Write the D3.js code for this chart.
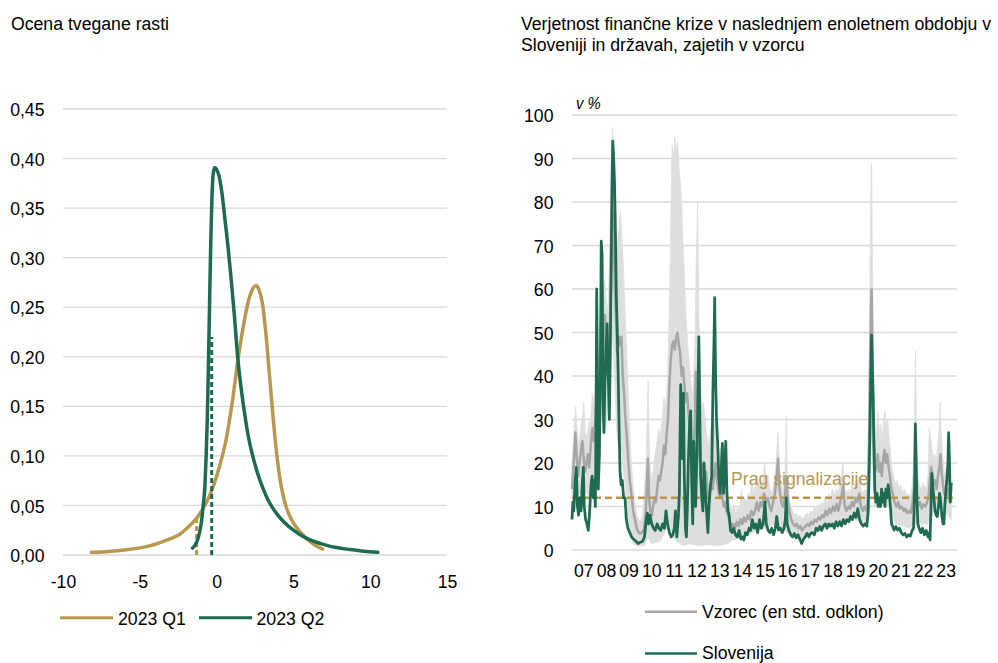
<!DOCTYPE html>
<html><head><meta charset="utf-8">
<script src="https://cdn.jsdelivr.net/npm/d3@7"></script>
<style>
html,body{margin:0;padding:0;background:#fff;}
svg{display:block;}
text{font-family:"Liberation Sans", Arial, Helvetica, sans-serif;}
</style></head>
<body><svg id="chart" width="998" height="663"></svg>
<script>
// ---------------- DATA ----------------
const leftTitle = "Ocena tvegane rasti";
const rightTitle = ["Verjetnost finančne krize v naslednjem enoletnem obdobju v", "Sloveniji in državah, zajetih v vzorcu"];
const leftYTicks = [0, 0.05, 0.10, 0.15, 0.20, 0.25, 0.30, 0.35, 0.40, 0.45];
const leftXTicks = [-10, -5, 0, 5, 10, 15];
const seriesNames = ["2023 Q1", "2023 Q2"];
// density of growth, 2023 Q1 [growth, density]
const densQ1 = [[-8.15,0.0027],[-7,0.0036],[-6,0.0050],[-5,0.0072],[-4.3,0.0095],[-3.6,0.013],[-3.0,0.0165],[-2.4,0.021],[-2.0,0.026],[-1.6,0.032],[-1.3,0.037],[-1.0,0.044],[-0.6,0.055],[-0.2,0.070],[0.2,0.090],[0.6,0.115],[1.0,0.152],[1.4,0.198],[1.8,0.236],[2.1,0.258],[2.4,0.270],[2.55,0.272],[2.75,0.268],[3.0,0.252],[3.2,0.225],[3.45,0.180],[3.7,0.135],[3.95,0.097],[4.2,0.070],[4.5,0.050],[4.9,0.035],[5.4,0.024],[5.9,0.016],[6.4,0.010],[6.9,0.006]];
// density of growth, 2023 Q2
const densQ2 = [[-1.57,0.007],[-1.35,0.011],[-1.15,0.020],[-1.0,0.032],[-0.87,0.050],[-0.76,0.070],[-0.68,0.100],[-0.61,0.135],[-0.54,0.185],[-0.48,0.235],[-0.42,0.285],[-0.37,0.322],[-0.30,0.362],[-0.22,0.385],[-0.12,0.391],[0.0,0.389],[0.15,0.383],[0.35,0.365],[0.55,0.338],[0.75,0.310],[0.95,0.278],[1.15,0.243],[1.37,0.200],[1.6,0.168],[1.85,0.140],[2.1,0.117],[2.4,0.097],[2.7,0.081],[3.0,0.068],[3.4,0.054],[3.9,0.042],[4.4,0.033],[5.0,0.025],[5.6,0.019],[6.3,0.014],[7.0,0.0105],[7.8,0.0075],[8.7,0.0055],[9.6,0.0038],[10.5,0.0027]];
// dashed markers [growth, density height]
const markerQ1 = [-1.3, 0.035];
const markerQ2 = [-0.32, 0.22];

const rightYTicks = [0,10,20,30,40,50,60,70,80,90,100];
const rightXYears = [2007,2008,2009,2010,2011,2012,2013,2014,2015,2016,2017,2018,2019,2020,2021,2022,2023];
const threshold = 12;
const thresholdLabel = "Prag signalizacije";
const unitLabel = "v %";
const legendRight = ["Vzorec (en std. odklon)", "Slovenija"];

// Slovenia [year, %]
const slovenia = [[2007.00,7],[2007.04,11],[2007.08,9],[2007.13,15],[2007.19,19],[2007.24,10],[2007.29,8],[2007.35,12],[2007.40,9],[2007.45,15],[2007.50,19],[2007.54,10],[2007.60,7],[2007.66,6],[2007.72,4.5],[2007.78,9],[2007.84,15],[2007.89,17],[2007.94,12],[2007.99,16],[2008.03,10],[2008.06,28],[2008.09,60],[2008.12,40],[2008.16,14],[2008.21,22],[2008.26,45],[2008.29,71],[2008.33,68],[2008.37,35],[2008.41,27],[2008.45,38],[2008.50,45],[2008.55,52],[2008.60,40],[2008.65,30],[2008.69,45],[2008.73,67],[2008.77,85],[2008.80,94],[2008.84,90],[2008.88,84],[2008.92,72],[2008.96,58],[2009.00,50],[2009.04,40],[2009.08,28],[2009.12,18],[2009.17,15],[2009.22,16],[2009.28,12],[2009.34,12],[2009.40,7],[2009.47,5],[2009.55,4],[2009.63,3],[2009.72,2.5],[2009.82,2],[2009.92,1.5],[2010.02,1.8],[2010.12,2],[2010.20,3],[2010.28,7],[2010.33,8.5],[2010.38,6],[2010.45,8],[2010.52,6],[2010.60,5],[2010.68,4.5],[2010.76,6],[2010.84,5],[2010.92,4.5],[2011.00,6],[2011.08,5],[2011.15,9],[2011.22,6],[2011.30,4],[2011.38,3],[2011.45,3.5],[2011.52,5],[2011.57,9],[2011.63,3],[2011.70,8],[2011.74,13],[2011.80,38],[2011.84,28],[2011.88,21],[2011.92,36],[2011.96,17],[2012.01,5],[2012.05,3],[2012.09,9],[2012.14,21],[2012.20,30],[2012.24,32],[2012.28,17],[2012.33,6],[2012.38,25],[2012.42,15],[2012.46,10],[2012.51,21],[2012.56,35],[2012.60,49],[2012.64,33],[2012.68,17],[2012.73,12],[2012.78,9],[2012.83,20],[2012.88,14],[2012.94,9],[2013.00,4],[2013.06,11],[2013.12,15],[2013.17,17],[2013.22,36],[2013.27,48],[2013.30,58],[2013.34,40],[2013.38,30],[2013.43,25],[2013.48,17],[2013.54,13],[2013.60,20],[2013.64,24.5],[2013.69,13],[2013.74,18],[2013.79,25],[2013.84,13],[2013.89,9],[2013.94,8],[2014.00,4.5],[2014.07,4],[2014.14,5],[2014.22,3.5],[2014.30,3],[2014.38,4.5],[2014.46,2.5],[2014.54,3],[2014.59,2.3],[2014.66,4],[2014.74,3.5],[2014.82,5],[2014.89,4.5],[2014.96,7],[2015.04,5],[2015.12,6],[2015.20,4],[2015.28,7],[2015.36,5],[2015.44,6],[2015.52,11],[2015.58,6],[2015.66,4.5],[2015.74,4],[2015.82,5],[2015.90,3.5],[2015.98,5],[2016.04,7.7],[2016.12,4.6],[2016.20,5],[2016.28,4],[2016.36,5],[2016.42,7],[2016.46,12],[2016.50,6],[2016.58,4.5],[2016.66,3.5],[2016.74,3],[2016.82,3.8],[2016.90,2.8],[2016.98,3.5],[2017.06,2.5],[2017.14,1.5],[2017.22,2.5],[2017.30,3],[2017.38,3.8],[2017.46,3],[2017.54,3.8],[2017.62,4],[2017.70,3.5],[2017.78,5],[2017.86,4.5],[2017.94,5.4],[2018.02,4.5],[2018.10,5.5],[2018.18,6],[2018.26,5],[2018.34,6],[2018.42,5.5],[2018.50,6],[2018.58,5],[2018.66,6.5],[2018.74,5.5],[2018.82,6.5],[2018.90,5.5],[2018.98,7],[2019.06,6],[2019.14,7],[2019.22,6.5],[2019.30,7.7],[2019.38,7],[2019.46,8.5],[2019.54,7.5],[2019.62,9.5],[2019.70,7],[2019.78,6],[2019.86,5.5],[2019.94,6],[2020.02,5.5],[2020.08,9],[2020.13,20],[2020.17,32],[2020.21,45],[2020.23,49.4],[2020.26,42],[2020.30,34],[2020.33,24],[2020.37,14],[2020.42,11],[2020.47,13],[2020.52,10],[2020.57,12],[2020.62,10],[2020.67,14],[2020.72,11],[2020.77,13],[2020.82,10],[2020.86,14],[2020.91,12],[2020.96,15],[2021.01,13],[2021.06,10],[2021.11,6],[2021.16,5.4],[2021.22,4.6],[2021.30,5.4],[2021.38,4.6],[2021.46,5],[2021.54,4],[2021.62,3.5],[2021.70,3.8],[2021.78,3],[2021.86,3.5],[2021.94,3.2],[2022.02,4.5],[2022.08,5],[2022.12,12],[2022.16,29],[2022.19,22],[2022.23,12],[2022.27,6],[2022.33,5],[2022.40,4],[2022.48,5],[2022.56,3.5],[2022.64,4.5],[2022.72,3],[2022.78,4],[2022.81,2.3],[2022.85,10],[2022.89,17.6],[2022.93,14.6],[2022.98,12],[2023.03,9],[2023.08,8],[2023.13,7.7],[2023.18,10],[2023.23,13],[2023.28,11],[2023.33,8],[2023.38,6],[2023.42,6],[2023.46,10],[2023.50,13],[2023.55,16],[2023.60,20],[2023.63,27],[2023.67,20],[2023.70,11],[2023.75,15.5]];

// sample mean [year, %]
const sampleMean = [[2007.00,14],[2007.05,18],[2007.10,22],[2007.15,27],[2007.20,22],[2007.27,17],[2007.33,20],[2007.40,23],[2007.46,25],[2007.52,21],[2007.58,18],[2007.64,20],[2007.70,22],[2007.76,19],[2007.83,24],[2007.90,28],[2007.97,25],[2008.03,30],[2008.10,36],[2008.17,33],[2008.23,43],[2008.28,52],[2008.34,49],[2008.40,43],[2008.46,54],[2008.52,46],[2008.58,40],[2008.64,45],[2008.70,55],[2008.76,68],[2008.80,78],[2008.85,70],[2008.90,60],[2008.95,52],[2009.00,45],[2009.06,49],[2009.12,47],[2009.18,49],[2009.24,40],[2009.30,36],[2009.36,30],[2009.42,26],[2009.48,21],[2009.55,16],[2009.62,13],[2009.70,9],[2009.78,7],[2009.86,5],[2009.94,4],[2010.02,3.8],[2010.10,4],[2010.18,5],[2010.25,8],[2010.30,14],[2010.35,21],[2010.40,12],[2010.46,9],[2010.52,8],[2010.58,10],[2010.64,12],[2010.70,11],[2010.76,14],[2010.82,17],[2010.88,16],[2010.94,18],[2011.00,20],[2011.06,24],[2011.12,22],[2011.18,27],[2011.24,30],[2011.30,38],[2011.36,44],[2011.42,47],[2011.48,48],[2011.54,46],[2011.60,49],[2011.66,50],[2011.72,47],[2011.78,45],[2011.84,40],[2011.90,42],[2011.96,38],[2012.02,34],[2012.08,36],[2012.14,32],[2012.20,28],[2012.26,25],[2012.32,22],[2012.38,24],[2012.43,30],[2012.46,41],[2012.50,28],[2012.56,24],[2012.62,22],[2012.68,19],[2012.74,18],[2012.80,20],[2012.86,16],[2012.92,18],[2012.98,14],[2013.04,12],[2013.10,14],[2013.16,16],[2013.22,14],[2013.28,18],[2013.34,20],[2013.40,16],[2013.46,14],[2013.52,12],[2013.58,14],[2013.64,12],[2013.70,10],[2013.76,11],[2013.82,9],[2013.88,8],[2013.94,7],[2014.00,6],[2014.06,5.5],[2014.12,6],[2014.20,5],[2014.28,6.5],[2014.36,5.5],[2014.44,7],[2014.52,6],[2014.60,7.5],[2014.68,6.5],[2014.76,8],[2014.84,7],[2014.92,9],[2015.00,8],[2015.08,9],[2015.16,11],[2015.24,9],[2015.32,11],[2015.40,10],[2015.48,13],[2015.56,11],[2015.64,12],[2015.72,10],[2015.80,9],[2015.88,11],[2015.96,13],[2016.04,17],[2016.10,21],[2016.16,14],[2016.24,11],[2016.32,10],[2016.40,12],[2016.46,17],[2016.52,12],[2016.60,9],[2016.68,7],[2016.76,6],[2016.84,5.5],[2016.92,6],[2017.00,5],[2017.08,5.5],[2017.16,4.5],[2017.24,5],[2017.32,5.5],[2017.40,6],[2017.48,5.5],[2017.56,6.5],[2017.64,6],[2017.72,7],[2017.80,6.5],[2017.88,7.5],[2017.96,7],[2018.04,8],[2018.12,7.5],[2018.20,9],[2018.28,8],[2018.36,9.5],[2018.44,8.5],[2018.52,10],[2018.60,9],[2018.68,10.5],[2018.76,9],[2018.84,11],[2018.92,13],[2018.98,15],[2019.04,10],[2019.12,9],[2019.20,10],[2019.28,9.5],[2019.36,11],[2019.44,10],[2019.52,12],[2019.60,11],[2019.68,13],[2019.76,10],[2019.84,9],[2019.92,10],[2020.00,9],[2020.06,11],[2020.12,25],[2020.17,45],[2020.21,58],[2020.23,60],[2020.26,48],[2020.30,34],[2020.34,24],[2020.39,18],[2020.44,19],[2020.50,22],[2020.56,18],[2020.62,20],[2020.68,17],[2020.74,21],[2020.80,23],[2020.86,20],[2020.92,22],[2020.98,19],[2021.04,17],[2021.10,14],[2021.16,13],[2021.24,11],[2021.32,10],[2021.40,11],[2021.48,9.5],[2021.56,10],[2021.64,9],[2021.72,9.5],[2021.80,8.5],[2021.88,9],[2021.96,8.5],[2022.04,11],[2022.10,14],[2022.16,13],[2022.22,12],[2022.28,10],[2022.36,11],[2022.44,9.5],[2022.52,10.5],[2022.60,10],[2022.68,11],[2022.74,12],[2022.80,16],[2022.86,19],[2022.92,17],[2022.98,15],[2023.04,16],[2023.10,14],[2023.16,17],[2023.22,19],[2023.27,22],[2023.32,18],[2023.38,15],[2023.44,13],[2023.50,12],[2023.56,13],[2023.62,14],[2023.68,12],[2023.75,11]];

// band upper edge (mean + 1 sd) [year, %]
const bandUpper = [[2007.00,20],[2007.06,25],[2007.12,30],[2007.16,33],[2007.22,28],[2007.30,24],[2007.38,28],[2007.46,31],[2007.52,34],[2007.58,27],[2007.66,26],[2007.74,29],[2007.82,30],[2007.90,36],[2007.98,33],[2008.05,40],[2008.12,46],[2008.20,48],[2008.28,60],[2008.36,58],[2008.44,62],[2008.52,57],[2008.60,55],[2008.68,72],[2008.74,90],[2008.78,97],[2008.84,92],[2008.90,83],[2008.96,73],[2009.02,70],[2009.08,75],[2009.14,78],[2009.20,72],[2009.26,66],[2009.32,58],[2009.38,50],[2009.44,42],[2009.50,34],[2009.56,26],[2009.62,20],[2009.70,15],[2009.78,11],[2009.86,8],[2009.94,7],[2010.02,6.5],[2010.10,8],[2010.18,12],[2010.26,20],[2010.32,30],[2010.36,39],[2010.42,22],[2010.50,16],[2010.58,18],[2010.66,22],[2010.74,24],[2010.82,28],[2010.90,26],[2010.98,30],[2011.06,35],[2011.14,33],[2011.22,40],[2011.30,55],[2011.36,75],[2011.42,93],[2011.48,90],[2011.54,95],[2011.60,92],[2011.66,94],[2011.72,88],[2011.78,85],[2011.84,80],[2011.90,70],[2011.96,64],[2012.02,55],[2012.08,50],[2012.14,45],[2012.20,42],[2012.26,38],[2012.32,35],[2012.38,40],[2012.44,50],[2012.48,65],[2012.55,80],[2012.60,55],[2012.66,40],[2012.72,32],[2012.80,34],[2012.88,30],[2012.96,26],[2013.04,24],[2013.12,28],[2013.20,26],[2013.28,30],[2013.36,27],[2013.44,24],[2013.52,22],[2013.60,24],[2013.68,20],[2013.76,18],[2013.84,15],[2013.92,12],[2014.00,10],[2014.08,9],[2014.16,10],[2014.24,8.5],[2014.32,10],[2014.40,9],[2014.48,14],[2014.54,11],[2014.62,12],[2014.70,11],[2014.78,13],[2014.86,12],[2014.94,16],[2015.02,13],[2015.10,15],[2015.18,17],[2015.26,14],[2015.34,16],[2015.42,15],[2015.50,20],[2015.58,16],[2015.66,17],[2015.74,14],[2015.82,13],[2015.90,15],[2015.98,18],[2016.06,24],[2016.10,27],[2016.16,19],[2016.24,15],[2016.32,14],[2016.40,17],[2016.46,31],[2016.50,18],[2016.58,13],[2016.66,10],[2016.74,9],[2016.82,8],[2016.90,8.5],[2016.98,7.5],[2017.06,8],[2017.14,7],[2017.22,7.5],[2017.30,8],[2017.38,8.5],[2017.46,8],[2017.54,9],[2017.62,8.5],[2017.70,10],[2017.78,9],[2017.86,10.5],[2017.94,10],[2018.02,11],[2018.10,10.5],[2018.18,12],[2018.26,11],[2018.34,13],[2018.42,12],[2018.50,14],[2018.58,12.5],[2018.66,14],[2018.74,13],[2018.82,15],[2018.90,17],[2018.96,20],[2019.04,14],[2019.12,13],[2019.20,14],[2019.28,13],[2019.36,15],[2019.44,14],[2019.52,16],[2019.60,15],[2019.68,17],[2019.76,14],[2019.84,13],[2019.92,14],[2020.00,13],[2020.06,16],[2020.12,40],[2020.17,70],[2020.21,88],[2020.23,89],[2020.26,70],[2020.30,48],[2020.34,35],[2020.40,26],[2020.46,28],[2020.52,32],[2020.58,26],[2020.64,29],[2020.70,25],[2020.76,30],[2020.82,32],[2020.88,28],[2020.94,30],[2021.00,26],[2021.06,23],[2021.12,19],[2021.20,17],[2021.28,15],[2021.36,16],[2021.44,14],[2021.52,15],[2021.60,13],[2021.68,14],[2021.76,12.5],[2021.84,13],[2021.92,12],[2022.00,14],[2022.06,18],[2022.12,30],[2022.17,46],[2022.21,30],[2022.26,17],[2022.34,15],[2022.42,14],[2022.50,15.5],[2022.58,14],[2022.66,15],[2022.72,17],[2022.78,28],[2022.84,26],[2022.90,23],[2022.96,21],[2023.02,22],[2023.08,20],[2023.14,24],[2023.20,27],[2023.26,34],[2023.30,27],[2023.36,22],[2023.42,19],[2023.48,17],[2023.54,19],[2023.60,21],[2023.66,18],[2023.75,15]];

// band lower edge (mean - 1 sd) [year, %]
const bandLower = [[2007.0,8],[2007.2,12],[2007.5,14],[2007.8,12],[2008.0,18],[2008.3,30],[2008.5,28],[2008.8,50],[2009.0,25],[2009.2,22],[2009.4,12],[2009.55,4],[2009.7,1.5],[2009.9,0.8],[2010.2,1],[2010.35,3],[2010.5,1.5],[2010.9,2],[2011.1,4],[2011.3,6],[2011.45,3],[2011.6,2],[2011.9,1],[2012.2,1.5],[2012.6,1],[2013.0,1.2],[2013.5,1],[2013.9,1.5],[2014.0,2],[2014.5,3],[2015.0,4],[2015.5,5],[2016.0,6],[2016.3,5],[2016.7,3],[2017.0,2.5],[2017.5,3.5],[2018.0,4.5],[2018.5,5.5],[2019.0,6],[2019.5,7],[2020.0,6],[2020.2,30],[2020.35,10],[2020.6,10],[2021.0,10],[2021.3,6],[2021.9,5],[2022.2,6],[2022.7,6],[2023.0,9],[2023.3,10],[2023.75,7]];

// ---------------- STYLE ----------------
const C = {green:"#1E6B50", gold:"#B8984F", mean:"#A6A6A6", band:"#DEDEDE", grid:"#D9D9D9", text:"#000"};
const FS = 19, SX = 0.93;
const svg = d3.select("#chart");

function label(g, x, y, str, anchor, opts) {
  opts = opts || {};
  const t = g.append("text")
    .attr("transform", `translate(${x},${y}) scale(${SX},1)`)
    .attr("text-anchor", anchor || "start")
    .attr("font-size", opts.size || FS)
    .attr("fill", opts.fill || C.text)
    .text(str);
  if (opts.italic) t.attr("font-style", "italic");
  return t;
}

// ---------------- LEFT CHART ----------------
const L = {x0:63, x1:447, y0:555, y1:109};
const lx = d3.scaleLinear().domain([-10, 15]).range([L.x0, L.x1]);
const ly = d3.scaleLinear().domain([0, 0.45]).range([L.y0, L.y1]);
const gl = svg.append("g");

label(gl, 11, 30, leftTitle);

gl.append("g").selectAll("line").data(leftYTicks).join("line")
  .attr("x1", L.x0).attr("x2", L.x1)
  .attr("y1", d => ly(d)).attr("y2", d => ly(d))
  .attr("stroke", C.grid).attr("stroke-width", 1.3);

const fmtL = d => d3.format(".2f")(d).replace(".", ",");
const lyAxis = gl.append("g").attr("transform", "translate(44.5,0)")
  .call(d3.axisLeft(ly).tickValues(leftYTicks).tickFormat(fmtL).tickSize(0).tickPadding(0));
lyAxis.select(".domain").remove();
lyAxis.attr("font-size", FS).attr("font-family", null);
lyAxis.selectAll("text").attr("x", 0).attr("dy", "0.35em").attr("transform", `scale(${SX},1)`).attr("fill", C.text);

const lxAxis = gl.append("g").attr("transform", "translate(0,588)")
  .call(d3.axisBottom(lx).tickValues(leftXTicks).tickFormat(d3.format("d")).tickSize(0).tickPadding(0));
lxAxis.select(".domain").remove();
lxAxis.attr("font-size", FS).attr("font-family", null);
lxAxis.selectAll("text").attr("y", 0).attr("dy", 0).attr("transform", `scale(${SX},1)`).attr("fill", C.text)
  .text(d => d < 0 ? "-" + Math.abs(d) : String(d));

const dLine = d3.line().x(d => lx(d[0])).y(d => ly(d[1])).curve(d3.curveMonotoneX);
gl.append("path").attr("d", dLine(densQ1)).attr("fill", "none").attr("stroke", C.gold).attr("stroke-width", 3.5).attr("stroke-linecap", "round");
gl.append("line").attr("x1", lx(markerQ1[0])).attr("x2", lx(markerQ1[0])).attr("y1", ly(0)).attr("y2", ly(markerQ1[1]))
  .attr("stroke", C.gold).attr("stroke-width", 3).attr("stroke-dasharray", "5,3");
gl.append("path").attr("d", dLine(densQ2)).attr("fill", "none").attr("stroke", C.green).attr("stroke-width", 3.5).attr("stroke-linecap", "round");
gl.append("line").attr("x1", lx(markerQ2[0])).attr("x2", lx(markerQ2[0])).attr("y1", ly(0)).attr("y2", ly(markerQ2[1]))
  .attr("stroke", C.green).attr("stroke-width", 3).attr("stroke-dasharray", "5,3");

// left legend
const legL = gl.append("g");
[[60, 113, 118, C.gold, seriesNames[0]], [199, 252, 256.5, C.green, seriesNames[1]]].forEach(s => {
  legL.append("line").attr("x1", s[0]).attr("x2", s[1]).attr("y1", 617.7).attr("y2", 617.7)
    .attr("stroke", s[3]).attr("stroke-width", 3);
  label(legL, s[2], 625, s[4]);
});

// ---------------- RIGHT CHART ----------------
const R = {x0:572, x1:957, y0:550, y1:115};
const rx = d3.scaleLinear().domain([2007, 2024]).range([R.x0, R.x1]);
const ry = d3.scaleLinear().domain([0, 100]).range([R.y0, R.y1]);
const gr = svg.append("g");

label(gr, 521, 29.5, rightTitle[0]);
label(gr, 521, 51, rightTitle[1]);

gr.append("g").selectAll("line").data(rightYTicks).join("line")
  .attr("x1", R.x0).attr("x2", R.x1)
  .attr("y1", d => ry(d)).attr("y2", d => ry(d))
  .attr("stroke", C.grid).attr("stroke-width", 1.3);

const ryAxis = gr.append("g").attr("transform", "translate(553.5,0)")
  .call(d3.axisLeft(ry).tickValues(rightYTicks).tickFormat(d3.format("d")).tickSize(0).tickPadding(0));
ryAxis.select(".domain").remove();
ryAxis.attr("font-size", FS).attr("font-family", null);
ryAxis.selectAll("text").attr("x", 0).attr("dy", "0.35em").attr("transform", `scale(${SX},1)`).attr("fill", C.text);

const rxAxis = gr.append("g").attr("transform", "translate(0,577)")
  .call(d3.axisBottom(rx).tickValues(rightXYears.map(y => y + 0.5)).tickFormat(d => String(Math.floor(d)).slice(2)).tickSize(0).tickPadding(0));
rxAxis.select(".domain").remove();
rxAxis.attr("font-size", FS).attr("font-family", null);
rxAxis.selectAll("text").attr("y", 0).attr("dy", 0).attr("transform", `scale(${SX},1)`).attr("fill", C.text);

label(gr, 576, 109, unitLabel, "start", {italic: true, size: 16});

// band
const bandPts = bandUpper.map(d => [rx(d[0]), ry(d[1])]).concat(bandLower.slice().reverse().map(d => [rx(d[0]), ry(d[1])]));
gr.append("path").attr("d", d3.line()(bandPts) + "Z").attr("fill", C.band).attr("stroke", C.band).attr("stroke-width", 0.8);

const tLine = d3.line().x(d => rx(d[0])).y(d => ry(d[1]));
gr.append("path").attr("d", tLine(sampleMean)).attr("fill", "none").attr("stroke", C.mean).attr("stroke-width", 2.5).attr("stroke-linejoin", "round");

gr.append("line").attr("x1", R.x0).attr("x2", R.x1).attr("y1", ry(threshold)).attr("y2", ry(threshold))
  .attr("stroke", C.gold).attr("stroke-width", 2.5).attr("stroke-dasharray", "7,4");

gr.append("path").attr("d", tLine(slovenia)).attr("fill", "none").attr("stroke", C.green).attr("stroke-width", 2.75).attr("stroke-linejoin", "round");

label(gr, 731, 485, thresholdLabel, "start", {fill: C.gold});

// right legend
const legR = gr.append("g");
legR.append("line").attr("x1", 645).attr("x2", 697).attr("y1", 611.7).attr("y2", 611.7).attr("stroke", C.mean).attr("stroke-width", 2.5);
label(legR, 702, 617.5, legendRight[0]);
legR.append("line").attr("x1", 645).attr("x2", 697).attr("y1", 653.5).attr("y2", 653.5).attr("stroke", C.green).attr("stroke-width", 2.5);
label(legR, 702, 658.5, legendRight[1]);
</script></body></html>
